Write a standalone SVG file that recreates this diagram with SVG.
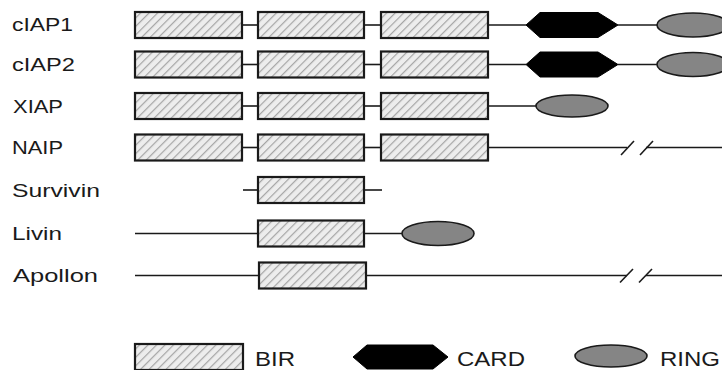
<svg xmlns="http://www.w3.org/2000/svg" width="722" height="370" viewBox="0 0 722 370">
<defs>
<pattern id="hatch" patternUnits="userSpaceOnUse" width="6" height="6" patternTransform="rotate(45)">
<rect width="6" height="6" fill="#ededed"/>
<rect x="0" y="0" width="1.2" height="6" fill="#a5a5a5"/>
</pattern>
<style>
.bir{fill:url(#hatch);stroke:#1a1a1a;stroke-width:2.2}
.card{fill:#000;stroke:#000;stroke-width:1}
.ring{fill:#858585;stroke:#1a1a1a;stroke-width:1.6}
.ln{stroke:#1a1a1a;stroke-width:1.6;fill:none}
.lbl{font-family:"Liberation Sans",Arial,sans-serif;font-size:19px;fill:#1a1a1a}
.leg{font-family:"Liberation Sans",Arial,sans-serif;font-size:21px;fill:#1a1a1a}
</style>
</defs>
<rect width="722" height="370" fill="#fff"/>

<g id="connectors">
<line class="ln" x1="242" y1="25" x2="258" y2="25"/>
<line class="ln" x1="364" y1="25" x2="381" y2="25"/>
<line class="ln" x1="488" y1="25" x2="526" y2="25"/>
<line class="ln" x1="618" y1="25" x2="657" y2="25"/>
<line class="ln" x1="242" y1="64.5" x2="258" y2="64.5"/>
<line class="ln" x1="364" y1="64.5" x2="381" y2="64.5"/>
<line class="ln" x1="488" y1="64.5" x2="526" y2="64.5"/>
<line class="ln" x1="618" y1="64.5" x2="657" y2="64.5"/>
<line class="ln" x1="242" y1="106" x2="258" y2="106"/>
<line class="ln" x1="364" y1="106" x2="381" y2="106"/>
<line class="ln" x1="488" y1="106" x2="536" y2="106"/>
<line class="ln" x1="242" y1="147.5" x2="258" y2="147.5"/>
<line class="ln" x1="364" y1="147.5" x2="381" y2="147.5"/>
<line class="ln" x1="488" y1="147.5" x2="627" y2="147.5"/>
<line class="ln" x1="646" y1="147.5" x2="722" y2="147.5"/>
<line class="ln" x1="621" y1="155" x2="634" y2="141"/>
<line class="ln" x1="640" y1="155" x2="653" y2="141"/>
<line class="ln" x1="243" y1="190" x2="258" y2="190"/>
<line class="ln" x1="364" y1="190" x2="382" y2="190"/>
<line class="ln" x1="135" y1="233.5" x2="258" y2="233.5"/>
<line class="ln" x1="364" y1="233.5" x2="402" y2="233.5"/>
<line class="ln" x1="135" y1="275.5" x2="259" y2="275.5"/>
<line class="ln" x1="366" y1="275.5" x2="627" y2="275.5"/>
<line class="ln" x1="646" y1="275.5" x2="722" y2="275.5"/>
<line class="ln" x1="620" y1="282.5" x2="633" y2="269"/>
<line class="ln" x1="639" y1="282.5" x2="652" y2="269"/>
</g>

<g id="cIAP1">
<text class="lbl" x="12" y="31" textLength="61" lengthAdjust="spacingAndGlyphs">cIAP1</text>
<rect class="bir" x="135" y="12" width="107" height="26"/>
<rect class="bir" x="258" y="12" width="106" height="26"/>
<rect class="bir" x="381" y="12" width="107" height="26"/>
<polygon class="card" points="526,25 540,12.5 598,12.5 618,25 598,37.5 540,37.5"/>
<ellipse class="ring" cx="693" cy="25" rx="36" ry="12"/>
</g>

<g id="cIAP2">
<text class="lbl" x="12" y="71" textLength="63" lengthAdjust="spacingAndGlyphs">cIAP2</text>
<rect class="bir" x="135" y="51.5" width="107" height="26"/>
<rect class="bir" x="258" y="51.5" width="106" height="26"/>
<rect class="bir" x="381" y="51.5" width="107" height="26"/>
<polygon class="card" points="526,64.5 540,52 598,52 618,64.5 598,77 540,77"/>
<ellipse class="ring" cx="693" cy="64.5" rx="36" ry="12"/>
</g>

<g id="XIAP">
<text class="lbl" x="13" y="112.5" textLength="50" lengthAdjust="spacingAndGlyphs">XIAP</text>
<rect class="bir" x="135" y="93" width="107" height="26"/>
<rect class="bir" x="258" y="93" width="106" height="26"/>
<rect class="bir" x="381" y="93" width="107" height="26"/>
<ellipse class="ring" cx="572" cy="106" rx="36" ry="11"/>
</g>

<g id="NAIP">
<text class="lbl" x="12" y="154" textLength="51" lengthAdjust="spacingAndGlyphs">NAIP</text>
<rect class="bir" x="135" y="134.5" width="107" height="26"/>
<rect class="bir" x="258" y="134.5" width="106" height="26"/>
<rect class="bir" x="381" y="134.5" width="107" height="26"/>
</g>

<g id="Survivin">
<text class="lbl" x="12" y="196.5" textLength="88" lengthAdjust="spacingAndGlyphs">Survivin</text>
<rect class="bir" x="258" y="177" width="106" height="26"/>
</g>

<g id="Livin">
<text class="lbl" x="12" y="240" textLength="50" lengthAdjust="spacingAndGlyphs">Livin</text>
<rect class="bir" x="258" y="220.5" width="106" height="26"/>
<ellipse class="ring" cx="438" cy="233.5" rx="36" ry="12"/>
</g>

<g id="Apollon">
<text class="lbl" x="13" y="282" textLength="85" lengthAdjust="spacingAndGlyphs">Apollon</text>
<rect class="bir" x="259" y="262.5" width="107" height="26"/>
</g>

<g id="legend-BIR">
<rect class="bir" x="135" y="344" width="108" height="26"/>
<text class="leg" x="255" y="366" textLength="40" lengthAdjust="spacingAndGlyphs">BIR</text>
</g>
<g id="legend-CARD">
<polygon class="card" points="353,357 367,345 433,345 448,357 433,369 367,369"/>
<text class="leg" x="457" y="366" textLength="68" lengthAdjust="spacingAndGlyphs">CARD</text>
</g>
<g id="legend-RING">
<ellipse class="ring" cx="611" cy="356" rx="36" ry="11"/>
<text class="leg" x="660" y="366" textLength="60" lengthAdjust="spacingAndGlyphs">RING</text>
</g>
</svg>
